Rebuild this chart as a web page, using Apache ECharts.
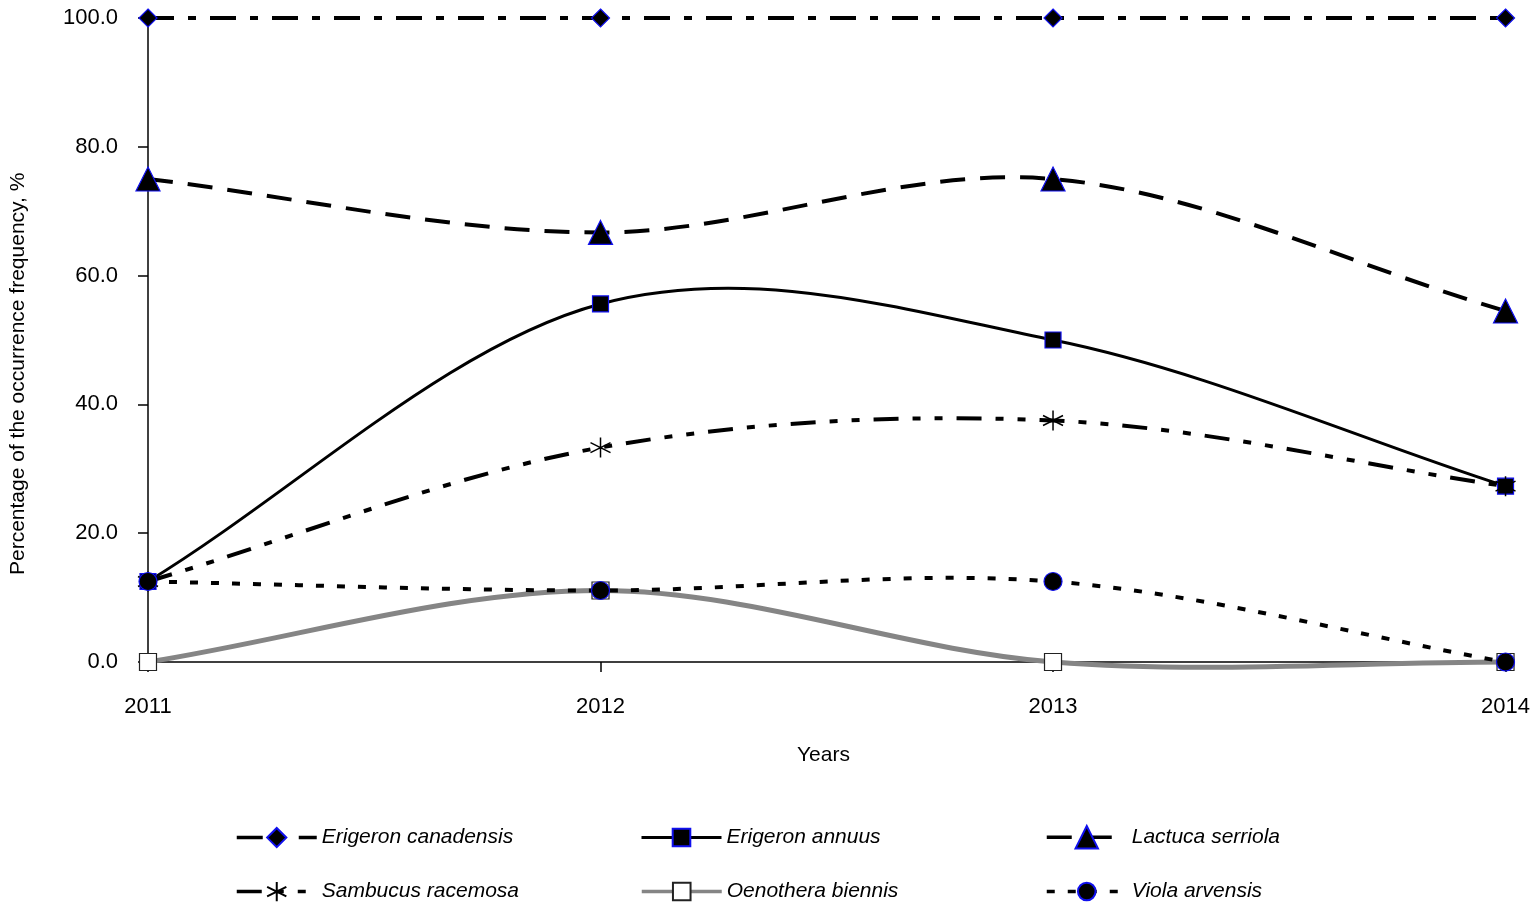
<!DOCTYPE html>
<html>
<head>
<meta charset="utf-8">
<script src="https://cdn.jsdelivr.net/npm/echarts@6/dist/echarts.min.js"></script>
<style>
  html, body { margin: 0; padding: 0; background: #fff; }
  #chart { width: 1533px; height: 911px; }
</style>
</head>
<body>
<div id="chart"></div>
<script>
// Données
const years = ['2011', '2012', '2013', '2014'];
const erigeronCanadensis = [100.0, 100.0, 100.0, 100.0];
const erigeronAnnuus = [12.5, 55.6, 50.0, 27.3];
const lactucaSerriola = [75.0, 66.7, 75.0, 54.5];
const sambucusRacemosa = [12.5, 33.3, 37.5, 27.3];
const oenotheraBiennis = [0.0, 11.1, 0.0, 0.0];
const violaArvensis = [12.5, 11.1, 12.5, 0.0];
const yTicks = [0, 20, 40, 60, 80, 100];

const FONT = '"Liberation Sans Narrow", "Arial Narrow", "Liberation Sans", Arial, sans-serif';
const asterisk = 'path://M5,0L5,10M0.7,2.5L9.3,7.5M0.7,7.5L9.3,2.5';
const BLUE = '#1010ee';

const chart = echarts.init(document.getElementById('chart'), null, { renderer: 'canvas' });

// courbe lissée type tableur (Catmull-Rom) calculée via les coordonnées de l'axe
function smoothPath(api, values) {
    const pts = values.map((v, i) => api.coord([i, v]));
    const n = pts.length;
    const tan = pts.map((p, i) => {
        if (i === 0) return [pts[1][0] - p[0], pts[1][1] - p[1]];
        if (i === n - 1) return [p[0] - pts[i - 1][0], p[1] - pts[i - 1][1]];
        return [(pts[i + 1][0] - pts[i - 1][0]) / 2, (pts[i + 1][1] - pts[i - 1][1]) / 2];
    });
    let d = 'M' + pts[0][0] + ',' + pts[0][1];
    for (let i = 0; i < n - 1; i++) {
        const c1 = [pts[i][0] + tan[i][0] / 3, pts[i][1] + tan[i][1] / 3];
        const c2 = [pts[i + 1][0] - tan[i + 1][0] / 3, pts[i + 1][1] - tan[i + 1][1] / 3];
        d += 'C' + c1[0] + ',' + c1[1] + ' ' + c2[0] + ',' + c2[1] + ' ' + pts[i + 1][0] + ',' + pts[i + 1][1];
    }
    return d;
}

const species = [
    { name: 'Erigeron canadensis', data: erigeronCanadensis,
      line: { color: '#000', width: 4, type: [26, 14, 8, 14] },
      symbol: 'diamond', size: 18, legendH: 24, item: { color: '#000', borderColor: BLUE, borderWidth: 1.2 } },
    { name: 'Erigeron annuus', data: erigeronAnnuus,
      line: { color: '#000', width: 3, type: 'solid' },
      symbol: 'rect', size: 16, legendH: 22, item: { color: '#000', borderColor: BLUE, borderWidth: 1.2 } },
    { name: 'Lactuca serriola', data: lactucaSerriola,
      line: { color: '#000', width: 4, type: [25, 15] },
      symbol: 'triangle', size: 24, legendH: 28, item: { color: '#000', borderColor: BLUE, borderWidth: 1.2 } },
    { name: 'Sambucus racemosa', data: sambucusRacemosa,
      line: { color: '#000', width: 4, type: [25, 14, 8, 14, 8, 14] },
      symbol: asterisk, size: 20, legendH: 24, item: { color: 'rgba(0,0,0,0)', borderColor: '#000', borderWidth: 1.5 } },
    { name: 'Oenothera biennis', data: oenotheraBiennis,
      line: { color: '#858585', width: 5, type: 'solid' },
      symbol: 'rect', size: 17, legendH: 22, item: { color: '#fff', borderColor: '#222', borderWidth: 1.2 } },
    { name: 'Viola arvensis', data: violaArvensis,
      line: { color: '#000', width: 4, type: [8, 13] },
      symbol: 'circle', size: 18, legendH: 22, item: { color: '#000', borderColor: BLUE, borderWidth: 1.2 } }
];

const series = [];
// d'abord les courbes (custom), puis les marqueurs (line sans trait)
species.forEach(sp => {
    series.push({
        type: 'custom',
        name: sp.name + ' curve',
        data: [[0, sp.data[0]]],
        z: 2,
        silent: true,
        renderItem: (params, api) => ({
            type: 'path',
            shape: { pathData: smoothPath(api, sp.data) },
            style: {
                fill: 'none',
                stroke: sp.line.color,
                lineWidth: sp.line.width,
                lineDash: sp.line.type === 'solid' ? null : sp.line.type
            }
        })
    });
});
species.forEach(sp => {
    series.push({
        type: 'line',
        name: sp.name,
        data: sp.data,
        symbol: sp.symbol,
        symbolSize: sp.size,
        showAllSymbol: true,
        lineStyle: Object.assign({}, sp.line, { opacity: 0 }),
        itemStyle: sp.item,
        z: 3
    });
});

// légende en 3 colonnes x 2 lignes
const legendPos = [
    [230, 836], [635, 836], [1040, 836],
    [230, 890], [635, 890], [1040, 890]
];
const legends = species.map((sp, i) => ({
    data: [sp.name],
    left: legendPos[i][0],
    top: legendPos[i][1] - sp.legendH / 2 - 2 - (sp.legendH === 22 ? 1 : 0),
    orient: 'horizontal',
    itemWidth: 80,
    itemHeight: sp.legendH,
    itemGap: 10,
    selectedMode: false,
    lineStyle: { color: sp.line.color, width: Math.min(sp.line.width, 3.5), type: sp.line.type, opacity: 1 },
    textStyle: { fontFamily: FONT, fontStyle: 'italic', fontSize: 21, color: '#000' }
}));

const option = {
    backgroundColor: '#fff',
    animation: false,
    legend: legends,
    grid: { left: 148, right: 21, top: 18, bottom: 249, containLabel: false },
    graphic: [
        {
            type: 'text', left: 797, top: 745,
            style: { text: 'Years', font: '21px ' + FONT, fill: '#000' }
        },
        {
            type: 'text', x: 8, y: 575, rotation: Math.PI / 2,
            style: { text: 'Percentage of the occurrence frequency, %', font: '21px ' + FONT, fill: '#000', textVerticalAlign: 'top' }
        }
    ],
    xAxis: {
        type: 'category',
        data: years,
        boundaryGap: false,
        axisLine: { lineStyle: { color: '#000', width: 1.5 } },
        axisTick: { show: true, alignWithLabel: true, length: 10, lineStyle: { color: '#000', width: 1.5 } },
        axisLabel: { fontFamily: FONT, fontSize: 22, color: '#000', margin: 34 },
        splitLine: { show: false }
    },
    yAxis: {
        type: 'value',
        min: yTicks[0],
        max: yTicks[yTicks.length - 1],
        interval: 20,
        axisLine: { show: true, lineStyle: { color: '#000', width: 1.5 } },
        axisTick: { show: true, length: 10, lineStyle: { color: '#000', width: 1.5 } },
        axisLabel: {
            fontFamily: FONT, fontSize: 22, color: '#000', margin: 30,
            formatter: v => v.toFixed(1)
        },
        splitLine: { show: false }
    },
    series: series
};

chart.setOption(option);
window.addEventListener('resize', () => chart.resize());
</script>
</body>
</html>
